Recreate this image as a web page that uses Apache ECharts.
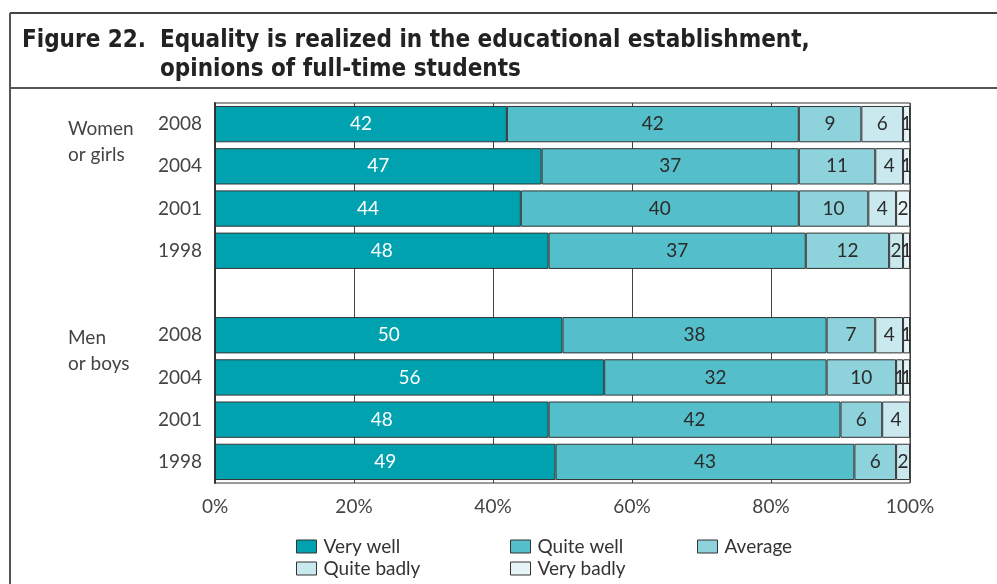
<!DOCTYPE html>
<html>
<head>
<meta charset="utf-8">
<script src="https://cdn.jsdelivr.net/npm/echarts@6/dist/echarts.min.js"></script>
<style>
  html, body { margin: 0; padding: 0; background: #fff; }
  #chart { width: 997px; height: 584px; }
</style>
</head>
<body>
<div id="chart"></div>
<script>
// Rows top to bottom: four women rows, a spacer row, four men rows
const rowKeys = ['w2008', 'w2004', 'w2001', 'w1998', 'gap', 'm2008', 'm2004', 'm2001', 'm1998'];
const rowLabels = ['2008', '2004', '2001', '1998', '', '2008', '2004', '2001', '1998'];

const seriesNames = ['Very well', 'Quite well', 'Average', 'Quite badly', 'Very badly'];
const veryWell   = [42, 47, 44, 48, null, 50, 56, 48, 49];
const quiteWell  = [42, 37, 40, 37, null, 38, 32, 42, 43];
const average    = [9, 11, 10, 12, null, 7, 10, 6, 6];
const quiteBadly = [6, 4, 4, 2, null, 4, 1, 4, 2];
const veryBadly  = [1, 1, 2, 1, null, 1, 1, null, null];

const xTicks = ['0%', '20%', '40%', '60%', '80%', '100%'];

const colors = ['#00a2b0', '#54bfca', '#8ed2dc', '#c9e9ef', '#e6f4f7'];
const labelColors = ['#ffffff', '#2b2b2b', '#2b2b2b', '#2b2b2b', '#2b2b2b'];
const seriesValues = [veryWell, quiteWell, average, quiteBadly, veryBadly];

const font = 'Lato, "Open Sans", sans-serif';
const titleFont = '"Liberation Sans Narrow", "DejaVu Sans Condensed", "Noto Sans", sans-serif';

const chart = echarts.init(document.getElementById('chart'));

const series = seriesNames.map((name, i) => ({
  name: name,
  type: 'bar',
  stack: 'total',
  barCategoryGap: '14%',
  data: seriesValues[i],
  itemStyle: { color: colors[i], borderColor: '#333', borderWidth: 1 },
  label: {
    show: true,
    position: 'inside',
    color: labelColors[i],
    fontFamily: font,
    fontSize: 19,
    formatter: p => (p.value == null ? '' : String(p.value))
  },
  emphasis: { disabled: true }
}));

const legendBase = {
  orient: 'vertical',
  width: 200,
  height: 60,
  padding: 0,
  itemWidth: 20,
  itemHeight: 13,
  itemGap: 3,
  icon: 'rect',
  textStyle: { fontFamily: font, fontSize: 19, lineHeight: 19, color: '#333', padding: [0, 0, 0, 2] },
  selectedMode: false,
  itemStyle: { borderColor: '#333', borderWidth: 1 }
};

chart.setOption({
  animation: false,
  color: colors,
  grid: {
    left: 215, right: 87, top: 103, bottom: 101,
    show: true, borderColor: '#333', borderWidth: 1, backgroundColor: 'transparent'
  },
  xAxis: {
    type: 'value',
    min: 0, max: 100, interval: 20,
    axisLine: { show: false },
    axisTick: { show: false },
    splitLine: { show: true, lineStyle: { color: '#444', width: 1 } },
    axisLabel: {
      fontFamily: font, fontSize: 19, color: '#444', margin: 14,
      formatter: v => xTicks[Math.round(v / 20)]
    }
  },
  yAxis: {
    type: 'category',
    inverse: true,
    data: rowKeys,
    axisLine: { show: true, lineStyle: { color: '#333', width: 2 } },
    axisTick: { show: false },
    axisLabel: {
      fontFamily: font, fontSize: 19, color: '#444', margin: 13,
      formatter: (v, idx) => rowLabels[idx]
    }
  },
  legend: [
    Object.assign({}, legendBase, { left: 296, top: 537, data: ['Very well', 'Quite badly'] }),
    Object.assign({}, legendBase, { left: 510, top: 537, data: ['Quite well', 'Very badly'] }),
    Object.assign({}, legendBase, { left: 697, top: 537, data: ['Average'] })
  ],
  graphic: [
    // frame round the figure and the rule under its heading
    { type: 'line', shape: { x1: 10, y1: 13, x2: 997, y2: 13 }, style: { stroke: '#444', lineWidth: 2 } },
    { type: 'line', shape: { x1: 10, y1: 13, x2: 10, y2: 584 }, style: { stroke: '#555', lineWidth: 2 } },
    { type: 'line', shape: { x1: 10, y1: 88, x2: 997, y2: 88 }, style: { stroke: '#555', lineWidth: 2 } },
    { type: 'text', left: 22, top: 29, style: { text: 'Figure 22.', font: 'bold 24px ' + titleFont, fill: '#222' } },
    { type: 'text', left: 160, top: 29, style: { text: 'Equality is realized in the educational establishment,', font: 'bold 24px ' + titleFont, fill: '#222' } },
    { type: 'text', left: 160, top: 58, style: { text: 'opinions of full-time students', font: 'bold 24px ' + titleFont, fill: '#222' } },
    // group captions beside the year labels
    { type: 'text', left: 68, top: 116, style: { text: 'Women\nor girls', font: '19px ' + font, fill: '#444', lineHeight: 26 } },
    { type: 'text', left: 68, top: 325, style: { text: 'Men\nor boys', font: '19px ' + font, fill: '#444', lineHeight: 26 } }
  ],
  series: series
});
</script>
</body>
</html>
